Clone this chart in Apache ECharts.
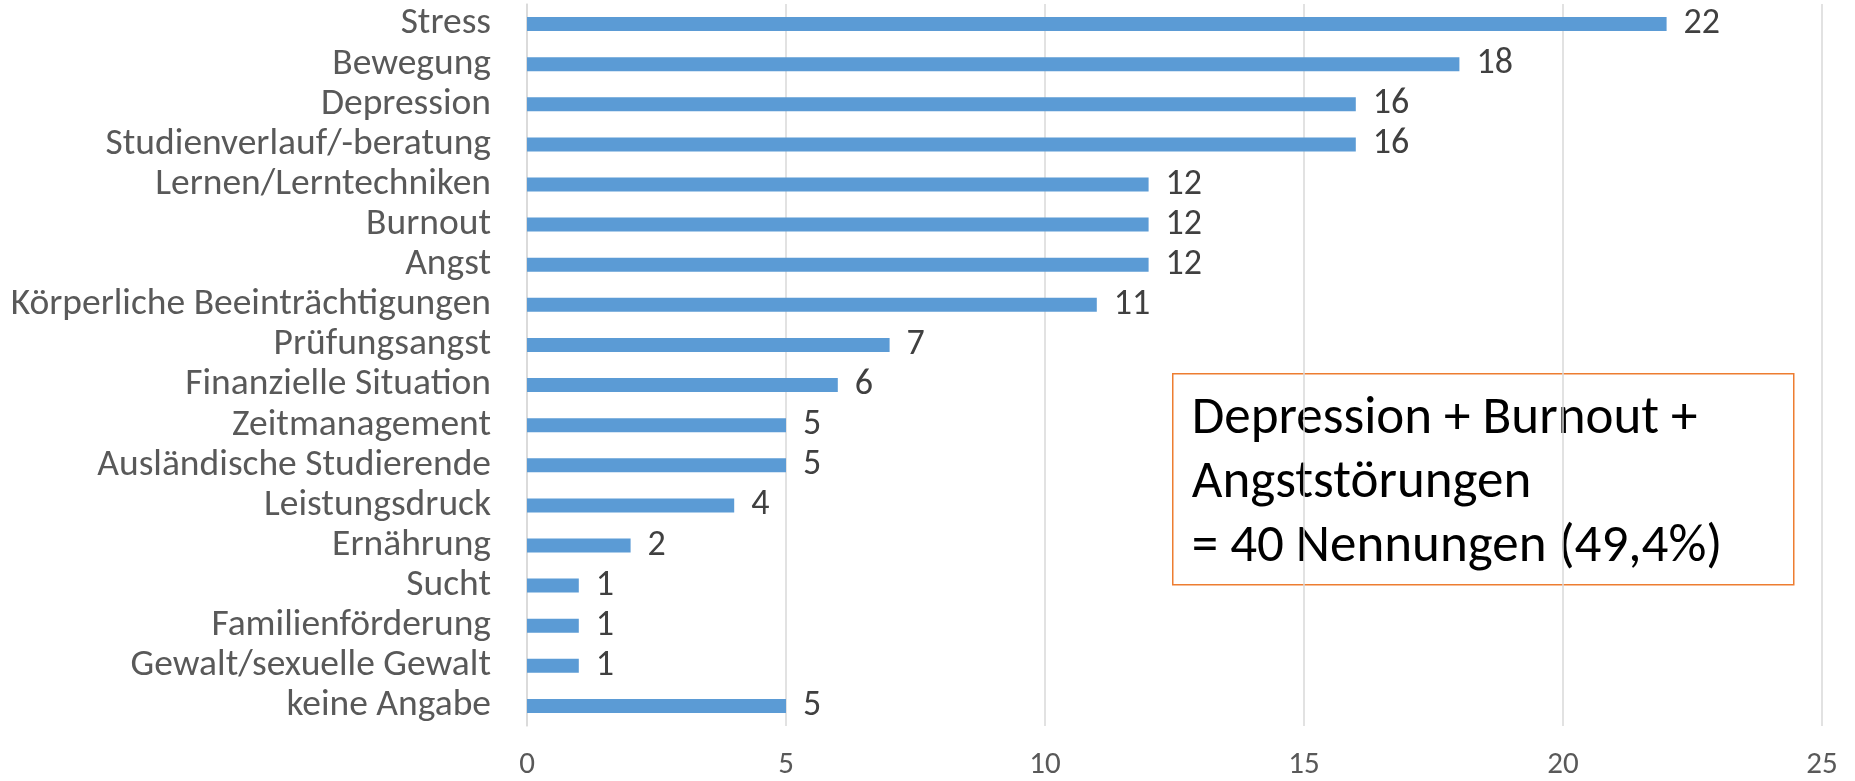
<!DOCTYPE html>
<html>
<head>
<meta charset="utf-8">
<title>Themen</title>
<script src="https://cdn.jsdelivr.net/npm/echarts@6/dist/echarts.min.js"></script>
<style>
  html, body { margin: 0; padding: 0; background: #ffffff; }
  #chart { width: 1855px; height: 781px; }
</style>
</head>
<body>
<div id="chart"></div>
<script>
// Themen und Anzahl der Nennungen
const categories = [
  'Stress', 'Bewegung', 'Depression', 'Studienverlauf/-beratung',
  'Lernen/Lerntechniken', 'Burnout', 'Angst', 'Körperliche Beeinträchtigungen',
  'Prüfungsangst', 'Finanzielle Situation', 'Zeitmanagement',
  'Ausländische Studierende', 'Leistungsdruck', 'Ernährung', 'Sucht',
  'Familienförderung', 'Gewalt/sexuelle Gewalt', 'keine Angabe'
];
const nennungen = [22, 18, 16, 16, 12, 12, 12, 11, 7, 6, 5, 5, 4, 2, 1, 1, 1, 5];
const xTicks = [0, 5, 10, 15, 20, 25];
const noteLines = ['Depression + Burnout +', 'Angststörungen', '= 40 Nennungen (49,4%)'];

const FONT = 'Carlito, Calibri, Lato, "Noto Sans", sans-serif';

const chart = echarts.init(document.getElementById('chart'), null, { renderer: 'canvas' });

chart.setOption({
  animation: false,
  backgroundColor: '#ffffff',
  textStyle: { fontFamily: FONT },
  grid: { left: 527, right: 33, top: 4, bottom: 53, containLabel: false },
  xAxis: {
    type: 'value',
    min: xTicks[0],
    max: xTicks[xTicks.length - 1],
    interval: xTicks[1] - xTicks[0],
    axisLine: { show: false },
    axisTick: { show: false },
    splitLine: { show: true, lineStyle: { color: '#D9D9D9', width: 1.5 } },
    axisLabel: { color: '#595959', fontSize: 31, fontFamily: FONT, margin: 24 }
  },
  yAxis: {
    type: 'category',
    data: categories,
    inverse: true,
    axisLine: { show: true, lineStyle: { color: '#D9D9D9', width: 1.5 } },
    axisTick: { show: false },
    axisLabel: {
      interval: 0,
      color: '#595959',
      fontSize: 37.5,
      fontFamily: FONT,
      margin: 36,
      padding: [5, 0, 0, 0]
    }
  },
  series: [{
    type: 'bar',
    data: nennungen,
    barWidth: 14,
    itemStyle: { color: '#5B9BD5' },
    label: {
      show: true,
      position: 'right',
      distance: 17,
      color: '#404040',
      fontSize: 36,
      fontFamily: FONT,
      padding: [5, 0, 0, 0]
    }
  }],
  graphic: [{
    type: 'group',
    left: 1172,
    top: 373,
    children: [{
      type: 'rect',
      shape: { x: 0, y: 0, width: 621, height: 211 },
      style: { fill: '#ffffff', stroke: '#ED7D31', lineWidth: 1.5 }
    }, {
      type: 'text',
      x: 19,
      y: 14,
      style: {
        text: noteLines.join('\n'),
        fill: '#000000',
        font: '53px ' + FONT,
        lineHeight: 64,
        verticalAlign: 'top'
      }
    }]
  }]
});
</script>
</body>
</html>
